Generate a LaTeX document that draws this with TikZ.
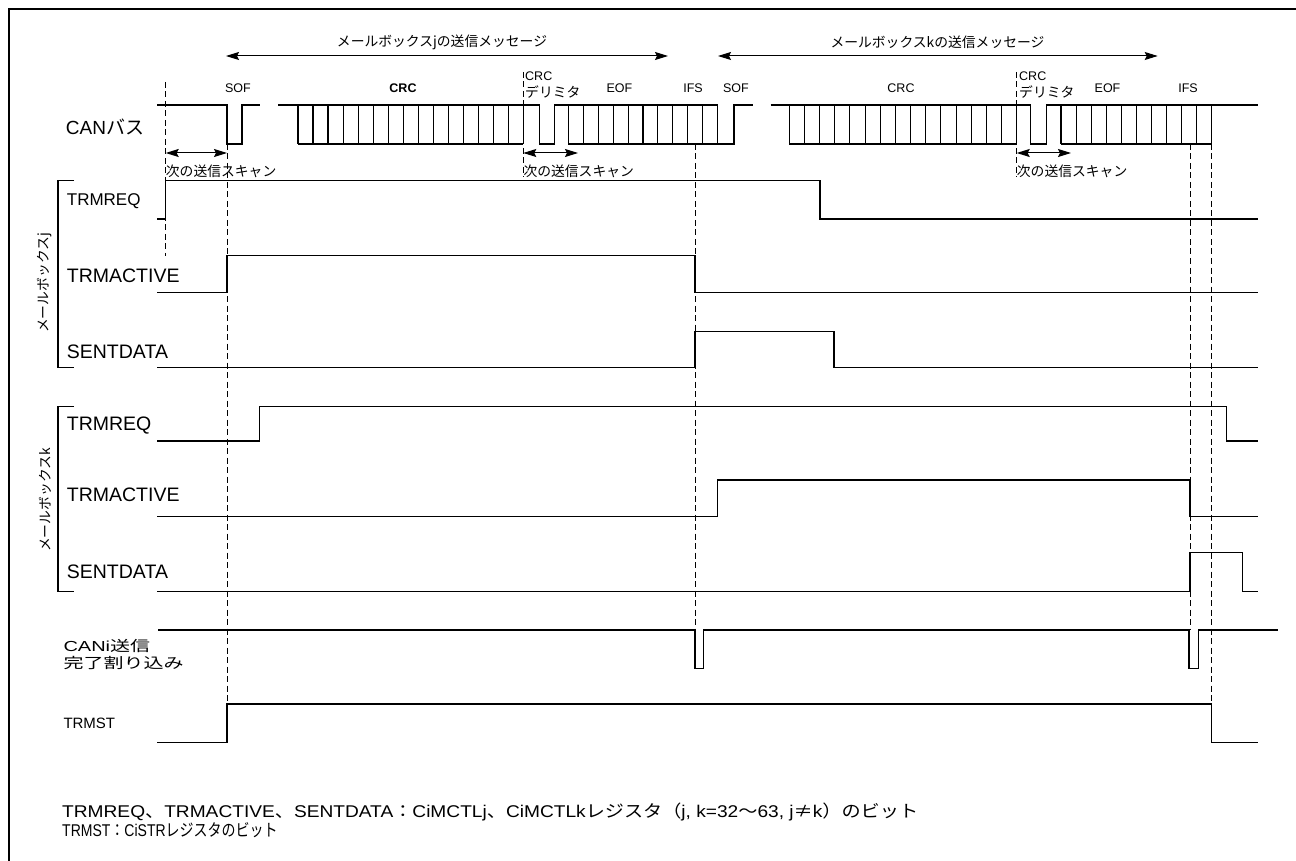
\documentclass[tikz,border=0pt]{standalone}
\usepackage{graphicx}
\usepackage{fontspec}
\setmainfont{Liberation Sans}
\newfontfamily\jp{Noto Sans CJK JP}
\usetikzlibrary{arrows.meta}

\newcommand{\lbfont}{\fontsize{19.5}{20}\selectfont}
\newcommand{\tagfont}{\fontsize{12.5}{16}\selectfont}
\newcommand{\jpfont}{\fontsize{13.8}{15}\selectfont\jp}
\newcommand{\notefont}{\fontsize{17}{18}\selectfont}

\tikzset{
  sig/.style={line width=1.1pt},
  guide/.style={line width=0.9pt, dash pattern=on 6pt off 3.5pt},
  span/.style={line width=1pt,
    {Stealth[length=13pt,width=8pt,inset=2pt]}-{Stealth[length=13pt,width=8pt,inset=2pt]}},
  lbl/.style={font=\lbfont, anchor=west, inner sep=0pt},
  tag/.style={font=\tagfont, inner sep=0pt},
  jtag/.style={font=\jpfont, inner sep=0pt},
}

% bit cells on the CAN bus: first x, last x, number of cells
\newcommand{\bitrow}[3]{%
  \draw[sig] (#1,105) -- (#2,105) (#1,144) -- (#2,144);
  \pgfmathsetmacro{\bitw}{(#2-#1)/#3}
  \foreach \i in {0,...,#3}
    \draw[sig] ({#1+\i*\bitw},105) -- ++(0,39);
}

\begin{document}
\begin{tikzpicture}[x=1pt,y=-1pt]
  \useasboundingbox (0,0) rectangle (1296,861);
  \draw[line width=2pt] (8.5,861) -- (8.5,9.5) -- (1296,9.5);

  % messages
  \coordinate (mj1) at (226,56);
  \coordinate (mj2) at (668,56);
  \coordinate (mk1) at (718,56);
  \coordinate (mk2) at (1157.7,56);
  \draw[span] (mj1) -- (mj2);
  \draw[span] (mk1) -- (mk2);
  \node[jtag] (msgj) at (442,42) {メールボックスjの送信メッセージ};
  \node[jtag] (msgk) at (937.5,42) {メールボックスkの送信メッセージ};

  % field names
  \node[tag] (sofj) at (238,88) {SOF};
  \node[tag, font=\tagfont\bfseries] (crcj) at (403,88) {CRC};
  \node[tag, anchor=west] (dlmj) at (525,76) {CRC};
  \node[jtag, anchor=west] (dlmj2) at (525,92) {デリミタ};
  \node[tag] (eofj) at (619.5,88) {EOF};
  \node[tag] (ifsj) at (693,88) {IFS};
  \node[tag] (sofk) at (736,88) {SOF};
  \node[tag] (crck) at (901,88) {CRC};
  \node[tag, anchor=west] (dlmk) at (1019,76) {CRC};
  \node[jtag, anchor=west] (dlmk2) at (1019,92) {デリミタ};
  \node[tag] (eofk) at (1107.5,88) {EOF};
  \node[tag] (ifsk) at (1188,88) {IFS};

  % CAN bus
  \draw[sig] (157,105) -- (227,105) -- (227,144) -- (242,144) -- (242,105) -- (260,105);
  \draw[sig] (278,105) -- (298,105);
  \bitrow{298}{523.3}{15}
  \draw[sig] (523.3,105) -- (539.3,105) -- (539.3,144) -- (554.3,144) -- (554.3,105) -- (568.3,105);
  \bitrow{568.3}{717.7}{10}
  \draw[sig] (717.7,144) -- (734,144) -- (734,105) -- (752.7,105);
  \draw[sig] (770.7,105) -- (789.3,105);
  \bitrow{789.3}{1016.7}{15}
  \draw[sig] (1016.7,105) -- (1030.7,105) -- (1030.7,144) -- (1046.7,144) -- (1046.7,105) -- (1061,105);
  \bitrow{1061}{1211.7}{10}
  \draw[sig] (1211.7,105) -- (1257.7,105);

  % guides
  \draw[guide] (165.7,82) -- (165.7,256);
  \draw[guide] (227,144) -- (227,704);
  \draw[guide] (523.3,72) -- (523.3,177);
  \draw[guide] (695,144) -- (695,630);
  \draw[guide] (1016.7,72) -- (1016.7,177);
  \draw[guide] (1190,144) -- (1190,630);
  \draw[guide] (1211.7,144) -- (1211.7,704);

  % next scan
  \coordinate (sc1a) at (165.7,153);
  \coordinate (sc1b) at (227,153);
  \coordinate (sc2a) at (523.3,153);
  \coordinate (sc2b) at (578,153);
  \coordinate (sc3a) at (1016.7,153);
  \coordinate (sc3b) at (1071,153);
  \draw[span] (sc1a) -- (sc1b);
  \draw[span] (sc2a) -- (sc2b);
  \draw[span] (sc3a) -- (sc3b);
  \node[jtag, anchor=west] (scan1) at (165.7,171) {次の送信スキャン};
  \node[jtag, anchor=west] (scan2) at (523.3,171) {次の送信スキャン};
  \node[jtag, anchor=west] (scan3) at (1016.7,171) {次の送信スキャン};

  % mailbox j
  \draw[sig] (74,180.7) -- (58,180.7) -- (58,367.3) -- (74,367.3);
  \node[jtag, rotate=90] (mbj) at (45,283) {メールボックスj};
  \draw[sig] (157,219) -- (165.7,219) -- (165.7,180.7) -- (820,180.7) -- (820,219) -- (1257.7,219);
  \draw[sig] (157,292.3) -- (227,292.3) -- (227,255.7) -- (695,255.7) -- (695,292.3) -- (1257.7,292.3);
  \draw[sig] (157,367.3) -- (695,367.3) -- (695,331.3) -- (834,331.3) -- (834,367.3) -- (1257.7,367.3);

  % mailbox k
  \draw[sig] (74,406.7) -- (58,406.7) -- (58,591.7) -- (74,591.7);
  \node[jtag, rotate=90] (mbk) at (45,500) {メールボックスk};
  \draw[sig] (157,441) -- (259.7,441) -- (259.7,406.7) -- (1226.7,406.7) -- (1226.7,441) -- (1257.7,441);
  \draw[sig] (157,516.5) -- (717.7,516.5) -- (717.7,480) -- (1190,480) -- (1190,516.5) -- (1257.7,516.5);
  \draw[sig] (157,591.7) -- (1190,591.7) -- (1190,552.7) -- (1242.7,552.7) -- (1242.7,591.7) -- (1257.7,591.7);

  % interrupt and TRMST
  \draw[sig] (158,630) -- (695,630) -- (695,668.3) -- (703.7,668.3) -- (703.7,630)
    -- (1189,630) -- (1189,668.3) -- (1198.3,668.3) -- (1198.3,630) -- (1278.3,630);
  \draw[sig] (157,742.5) -- (227,742.5) -- (227,704) -- (1211.7,704) -- (1211.7,742.5) -- (1257.7,742.5);

  % signal names
  \node[lbl, font=\fontsize{19}{20}\selectfont] (can) at (65.7,126.7) {CAN{\jp バス}};
  \node[lbl, font=\fontsize{17}{18}\selectfont] (reqj) at (66.7,200.7) {TRMREQ};
  \node[lbl] (actj) at (66.7,275.7) {TRMACTIVE};
  \node[lbl] (sntj) at (66.7,351.7) {SENTDATA};
  \node[lbl] (reqk) at (66.7,426) {TRMREQ};
  \node[lbl] (actk) at (66.7,495) {TRMACTIVE};
  \node[lbl] (sntk) at (66.7,571.7) {SENTDATA};
  \node[lbl, font=\fontsize{14.5}{17.5}\selectfont, align=left] (irq) at (63.3,654.7)
    {\scalebox{1.38}[1]{CANi{\jp 送信}}\\\scalebox{1.38}[1]{\jp 完了割り込み}};
  \node[lbl, font=\fontsize{15}{16}\selectfont] (trmst) at (63.3,723.3) {TRMST};

  % notes
  \node[lbl, font=\notefont] (note1) at (62,811.7) {\scalebox{1.126}[1]{TRMREQ{\jp 、}TRMACTIVE{\jp 、}SENTDATA{\jp ：}CiMCTLj{\jp 、}CiMCTLk{\jp レジスタ（}j, k=32{\jp 〜}63, j{\jp ≠}k{\jp ）のビット}}};
  \node[lbl, font=\notefont] (note2) at (62,830) {\scalebox{0.824}[1]{TRMST{\jp ：}CiSTR{\jp レジスタのビット}}};
\end{tikzpicture}
\end{document}
